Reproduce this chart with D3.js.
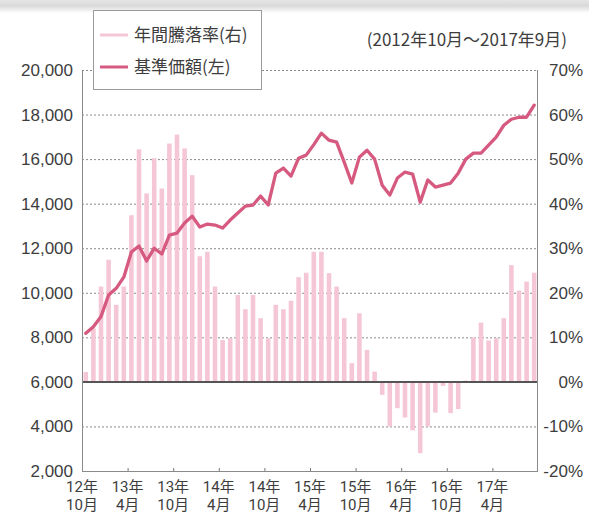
<!DOCTYPE html>
<html><head><meta charset="utf-8">
<script src="https://cdn.jsdelivr.net/npm/d3@7"></script>
<style>
body{margin:0;background:#fff;}
svg{display:block;font-family:"Noto Sans CJK JP","Noto Sans",sans-serif;}
</style></head><body>
<svg id="c" width="589" height="515"></svg>
<script>
// ---- data ----
const months = [
 "2012-10","2012-11","2012-12","2013-01","2013-02","2013-03","2013-04","2013-05","2013-06","2013-07","2013-08","2013-09",
 "2013-10","2013-11","2013-12","2014-01","2014-02","2014-03","2014-04","2014-05","2014-06","2014-07","2014-08","2014-09",
 "2014-10","2014-11","2014-12","2015-01","2015-02","2015-03","2015-04","2015-05","2015-06","2015-07","2015-08","2015-09",
 "2015-10","2015-11","2015-12","2016-01","2016-02","2016-03","2016-04","2016-05","2016-06","2016-07","2016-08","2016-09",
 "2016-10","2016-11","2016-12","2017-01","2017-02","2017-03","2017-04","2017-05","2017-06","2017-07","2017-08","2017-09"];
// 年間騰落率 (%), right axis
const annualReturn = [
 2.2,12,21.4,27.4,17.3,21.4,37.4,52.2,42.3,50.2,43.4,53.5,
 55.5,52.4,46.4,28.2,29.2,21.4,9.4,9.8,19.5,16.3,19.5,14.3,
 9.8,17.3,16.3,18.2,23.5,24.5,29.2,29.2,24.4,21.4,14.3,4.2,
 15.4,7.2,2.3,-2.9,-10,-5.9,-8,-10.9,-16,-10,-6.9,-0.9,
 -7,-6.1,0.3,10,13.3,9.3,9.8,14.3,26.2,20.5,22.5,24.5];
// 基準価額 (円), left axis
const nav = [
 8180,8480,8930,9900,10200,10700,11830,12100,11430,12000,11740,12590,
 12680,13130,13440,12950,13085,13040,12905,13264,13580,13890,13940,14340,
 13940,15370,15600,15240,16040,16180,16650,17165,16850,16760,15865,14925,
 16090,16400,16000,14830,14385,15150,15420,15330,14070,15060,14745,14830,
 14925,15370,16000,16270,16270,16630,16990,17520,17790,17880,17880,18420];
const leftTicks = [2000,4000,6000,8000,10000,12000,14000,16000,18000,20000];
const rightTicks = [-20,-10,0,10,20,30,40,50,60,70];
const xTickIndex = [0,6,12,18,24,30,36,42,48,54];
const xTickYear = ["12年","13年","13年","14年","14年","15年","15年","16年","16年","17年"];
const xTickMonth = ["10月","4月","10月","4月","10月","4月","10月","4月","10月","4月"];
const legendLabels = ["年間騰落率(右)","基準価額(左)"];
const subtitle = "(2012年10月～2017年9月)";

// ---- layout ----
const L=82, R=538, T=70, B=471;
const barColor="#f5c6d6", lineColor="#d65a80", textColor="#3d3d3d";
const svg = d3.select("#c");

// top shadow
const defs = svg.append("defs");
const g0 = defs.append("linearGradient").attr("id","sh").attr("x1",0).attr("x2",0).attr("y1",0).attr("y2",1);
g0.append("stop").attr("offset","0%").attr("stop-color","#e6e6e6");
g0.append("stop").attr("offset","45%").attr("stop-color","#d9d9d9");
g0.append("stop").attr("offset","100%").attr("stop-color","#ffffff");
svg.append("rect").attr("x",0).attr("y",0).attr("width",589).attr("height",13).attr("fill","url(#sh)");

const xm = d3.scaleLinear().domain([0, months.length]).range([L, R]);
const xb = d3.scaleBand().domain(months).range([L, R]).paddingInner(0.4).paddingOuter(0.2);
const yL = d3.scaleLinear().domain([2000, 20000]).range([B, T]);
const yR = d3.scaleLinear().domain([-20, 70]).range([B, T]);

// grid
svg.append("g").selectAll("line").data(leftTicks.filter(v=>v!==2000 && v!==6000)).join("line")
 .attr("x1",L).attr("x2",R).attr("y1",d=>yL(d)+0.5).attr("y2",d=>yL(d)+0.5)
 .attr("stroke","#8a8a8a").attr("stroke-width",1).attr("stroke-dasharray","2,2");

// bars
svg.append("g").selectAll("rect").data(annualReturn).join("rect")
 .attr("x",(d,i)=>xb(months[i])).attr("width",xb.bandwidth())
 .attr("y",d=>Math.min(yR(d),yR(0))).attr("height",d=>Math.abs(yR(d)-yR(0)))
 .attr("fill",barColor);

// zero line
svg.append("line").attr("x1",L).attr("x2",R).attr("y1",yR(0)).attr("y2",yR(0))
 .attr("stroke","#555").attr("stroke-width",2);

// axes frame
svg.append("line").attr("x1",L+0.5).attr("x2",L+0.5).attr("y1",T).attr("y2",B).attr("stroke","#8a8a8a");
svg.append("line").attr("x1",R-0.5).attr("x2",R-0.5).attr("y1",T).attr("y2",B).attr("stroke","#8a8a8a");

// bottom axis
const xAxis = d3.axisBottom(xm).tickValues(xTickIndex.slice(1)).tickSize(-3).tickFormat("");
const gx = svg.append("g").attr("transform",`translate(0,${B})`).call(xAxis);
gx.select(".domain").attr("stroke","#8a8a8a").attr("d",`M${L},0.5H${R}`);
gx.selectAll(".tick line").attr("stroke","#777");
const xg = svg.append("g").attr("fill",textColor).attr("font-size",15).attr("text-anchor","middle")
 .attr("font-family","Roboto,'Noto Sans CJK JP',sans-serif");
xg.selectAll("text.yr").data(xTickIndex).join("text").attr("class","yr")
 .attr("x",d=>xm(d)).attr("y",492).text((d,i)=>xTickYear[i]);
xg.selectAll("text.mo").data(xTickIndex).join("text").attr("class","mo")
 .attr("x",d=>xm(d)).attr("y",510).text((d,i)=>xTickMonth[i]);

// left axis labels
const gl = svg.append("g").attr("transform",`translate(${L},0)`)
 .call(d3.axisLeft(yL).tickValues(leftTicks).tickSize(0).tickPadding(9).tickFormat(d3.format(",")));
gl.select(".domain").remove();
gl.selectAll("text").attr("font-size",17).attr("fill",textColor).attr("font-family","inherit");

// right axis labels
const gr = svg.append("g").attr("transform",`translate(${R},0)`)
 .call(d3.axisRight(yR).tickValues(rightTicks).tickSize(0).tickFormat(d=>d+"%"));
gr.select(".domain").remove();
gr.selectAll("text").attr("font-size",17).attr("fill",textColor).attr("font-family","inherit")
 .attr("text-anchor","end").attr("x",45);

// line
const line = d3.line().x((d,i)=>xm(i+0.5)).y(d=>yL(d));
svg.append("path").datum(nav).attr("d",line).attr("fill","none")
 .attr("stroke",lineColor).attr("stroke-width",3.3).attr("stroke-linejoin","round").attr("stroke-linecap","round");

// legend
svg.append("rect").attr("x",93.5).attr("y",10.5).attr("width",168).attr("height",79)
 .attr("fill","#fff").attr("stroke","#9a9a9a");
const lg = svg.append("g");
[barColor, lineColor].forEach((c,i)=>{
  const y = 35 + i*32;
  lg.append("line").attr("x1",100).attr("x2",128).attr("y1",y).attr("y2",y).attr("stroke",c).attr("stroke-width",3);
  lg.append("text").attr("x",134).attr("y",y).attr("dy","0.35em").attr("font-size",17)
   .attr("fill",textColor).text(legendLabels[i]);
});

// subtitle
svg.append("text").attr("x",567).attr("y",40).attr("dy","0.35em").attr("text-anchor","end")
 .attr("font-size",17).attr("fill",textColor).text(subtitle);
</script>
</body></html>
